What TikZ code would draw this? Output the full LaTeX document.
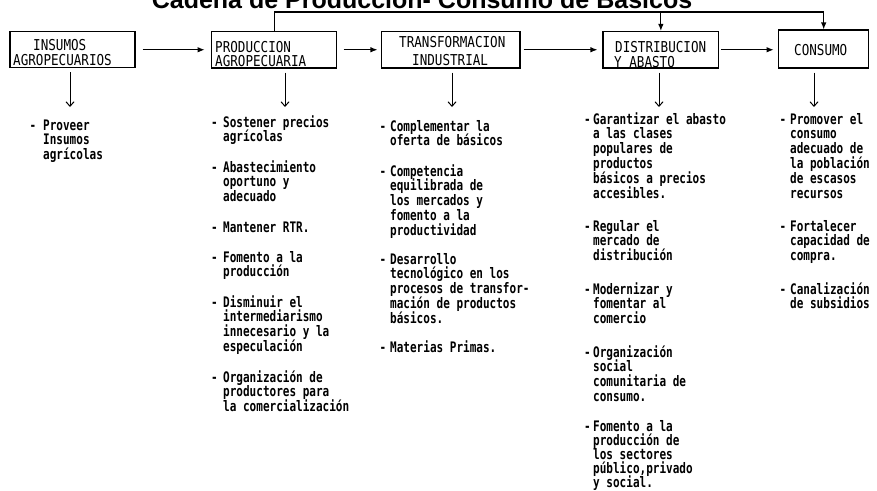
\documentclass[tikz,border=0pt]{standalone}
\usepackage{fontspec}
\setmainfont{DejaVu Sans Mono}[FakeStretch=0.76]
\newfontfamily\boxfont{DejaVu Sans Mono}[FakeStretch=0.84]
\newfontfamily\titlefont{Liberation Sans}
\usetikzlibrary{arrows.meta}
\newcommand{\lns}[1]{\vtop{\lineskiplimit=-100pt\halign{##\hfil\cr#1\crcr}}}
\newcommand{\itm}[2]{\llap{-\hspace{#1pt}}\lns{#2}}
\begin{document}
\begin{tikzpicture}[x=1pt,y=-1pt,
  ln/.style={line width=1.1pt},
  harr/.style={ln,-{Latex[length=7pt,width=5.5pt]}},
  darr/.style={line width=1pt,-{Straight Barb[length=4.5pt,width=8pt]}},
  bx/.style={draw,line width=1.1pt,inner sep=0pt},
  blab/.style={anchor=base west,inner sep=0pt,font=\boxfont\fontsize{15}{15}\selectfont},
  item/.style={anchor=base west,inner sep=0pt,font=\bfseries\fontsize{14.5}{14.9}\selectfont},
  ttl/.style={anchor=base,inner sep=0pt,font=\titlefont\bfseries\fontsize{25}{25}\selectfont}]

\path[use as bounding box,fill=white] (0,0) rectangle (877,490);

\node[ttl] (title) at (422,8) {Cadena de Producción- Consumo de Básicos};

% boxes
\node[bx,minimum width=125pt,minimum height=36pt] (ins) at (72.5,49.75) {};
\node[bx,minimum width=125pt,minimum height=36.5pt] (prod) at (274.2,49.75) {};
\node[bx,minimum width=138.3pt,minimum height=36.5pt] (trans) at (450.85,49.75) {};
\node[bx,minimum width=115.7pt,minimum height=36.5pt] (dist) at (660.85,49.75) {};
\node[bx,minimum width=90pt,minimum height=38pt] (cons) at (823.7,49) {};

% box labels
\node[blab] (insA) at (33,50) {INSUMOS};
\node[blab] (insB) at (13,65.5) {AGROPECUARIOS};
\node[blab] (prodA) at (215,52) {PRODUCCION};
\node[blab] (prodB) at (215,66.5) {AGROPECUARIA};
\node[blab] (transA) at (399,47) {TRANSFORMACION};
\node[blab] (transB) at (412,65) {INDUSTRIAL};
\node[blab] (distA) at (615,52) {DISTRIBUCION};
\node[blab] (distB) at (614,67) {Y ABASTO};
\node[blab] (consA) at (794,55) {CONSUMO};

% top connector
\coordinate (topL) at (274.2,12);
\coordinate (topD) at (660.85,12);
\coordinate (topC) at (823.7,12);
\draw[ln] (prod.north) -- (topL) -- (topC);
\draw[harr] (topD) -- (dist.north);
\draw[harr] (topC) -- (cons.north);

% horizontal arrows
\draw[harr,shorten <=7pt,shorten >=6.5pt] (ins) -- (prod);
\draw[harr,shorten <=6.3pt,shorten >=3.7pt] (prod) -- (trans);
\draw[harr,shorten <=3pt,shorten >=5pt] (trans) -- (dist);
\draw[harr,shorten <=1.5pt,shorten >=4.5pt] (dist.east) -- (dist.east -| cons.west);

% down arrows
\coordinate (dI) at (70,107);
\coordinate (dP) at (285,107);
\coordinate (dT) at (452,107);
\coordinate (dD) at (659,107);
\coordinate (dC) at (814,107);
\draw[darr,shorten <=4pt] (ins.south -| dI) -- (dI);
\draw[darr,shorten <=4pt] (prod.south -| dP) -- (dP);
\draw[darr,shorten <=4pt] (trans.south -| dT) -- (dT);
\draw[darr,shorten <=4pt] (dist.south -| dD) -- (dD);
\draw[darr,shorten <=4pt] (cons.south -| dC) -- (dC);

% INSUMOS column
\node[item] (i1) at (43,130) {\itm{7}{Proveer\cr Insumos\cr agrícolas}};

% PRODUCCION column
\node[item] (p1) at (223,127) {\itm{5.5}{Sostener precios\cr agrícolas}};
\node[item] (p2) at (223,172) {\itm{5.5}{Abastecimiento\cr oportuno y\cr adecuado}};
\node[item] (p3) at (223,232) {\itm{5.5}{Mantener RTR.}};
\node[item] (p4) at (223,262) {\itm{5.5}{Fomento a la\cr producción}};
\node[item] (p5) at (223,307) {\itm{5.5}{Disminuir el\cr intermediarismo\cr innecesario y la\cr especulación}};
\node[item] (p6) at (223,382) {\itm{5.5}{Organización de\cr productores para\cr la comercialización}};

% TRANSFORMACION column
\node[item] (t1) at (390,131) {\itm{4}{Complementar la\cr oferta de básicos}};
\node[item] (t2) at (390,176) {\itm{4}{Competencia\cr equilibrada de\cr los mercados y\cr fomento a la\cr productividad}};
\node[item] (t3) at (390,264) {\itm{4}{Desarrollo\cr tecnológico en los\cr procesos de transfor-\cr mación de productos\cr básicos.}};
\node[item] (t4) at (390,352) {\itm{4}{Materias Primas.}};

% DISTRIBUCION column
\node[item] (d1) at (593,124) {\itm{2.5}{Garantizar el abasto\cr a las clases\cr populares de\cr productos\cr básicos a precios\cr accesibles.}};
\node[item] (d2) at (593,231) {\itm{2.5}{Regular el\cr mercado de\cr distribución}};
\node[item] (d3) at (593,294) {\itm{2.5}{Modernizar y\cr fomentar al\cr comercio}};
\node[item] (d4) at (593,357) {\itm{2.5}{Organización\cr social\cr comunitaria de\cr consumo.}};
\node[item,font=\bfseries\fontsize{14.5}{14}\selectfont] (d5) at (593,431) {\itm{2.5}{Fomento a la\cr producción de\cr los sectores\cr público,privado\cr y social.}};

% CONSUMO column
\node[item] (c1) at (790,124) {\itm{4}{Promover el\cr consumo\cr adecuado de\cr la población\cr de escasos\cr recursos}};
\node[item] (c2) at (790,231) {\itm{4}{Fortalecer\cr capacidad de\cr compra.}};
\node[item] (c3) at (790,294) {\itm{4}{Canalización\cr de subsidios}};
\end{tikzpicture}
\end{document}
